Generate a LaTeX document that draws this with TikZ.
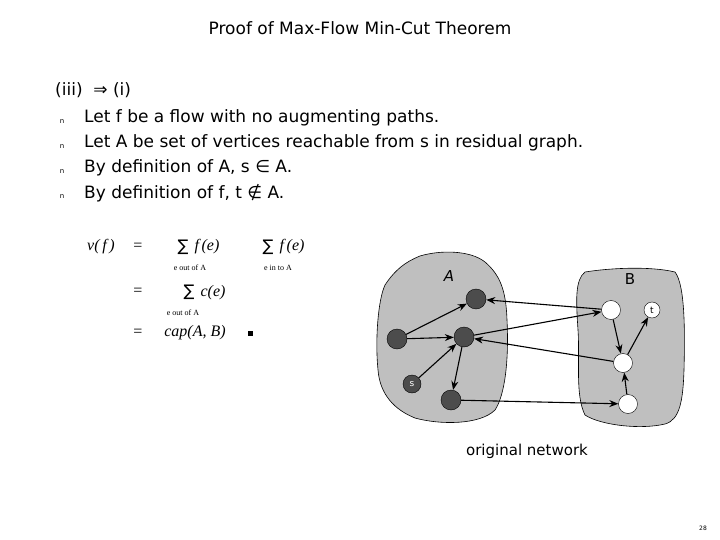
\documentclass[tikz,border=0pt]{standalone}
\usepackage{fontspec}
\setmainfont{DejaVu Sans}
\newfontfamily\mathserif{Liberation Serif}
\usetikzlibrary{arrows.meta}
\begin{document}
\begin{tikzpicture}[x=1pt,y=-1pt,
  txt/.style={font=\fontsize{17}{20}\selectfont,anchor=west,inner sep=0},
  blt/.style={font=\fontsize{7}{8}\selectfont,inner sep=0},
  dk/.style={circle,draw,fill=black!70,minimum size=20pt,inner sep=0},
  lt/.style={circle,draw,fill=white,minimum size=19pt,inner sep=0,font=\fontsize{9}{10}\selectfont},
  arr/.style={-{Stealth[length=9pt,width=7pt]},line width=1.1pt},
  fm/.style={font=\mathserif\fontsize{16}{18}\selectfont\itshape,inner sep=0},
  fu/.style={font=\mathserif\fontsize{16}{18}\selectfont,inner sep=0},
  sm/.style={font=\fontsize{16}{18}\selectfont,inner sep=0},
  sb/.style={font=\mathserif\fontsize{8}{9}\selectfont,inner sep=0}]
\useasboundingbox (0,0) rectangle (720,540);
\node[font=\fontsize{17}{20}\selectfont] (title) at (360,28) {Proof of Max-Flow Min-Cut Theorem};
\node[txt] (hd) at (55,90) {(iii) \ ⇒ (i)};
\foreach \y/\t [count=\i] in {118/{Let f be a flow with no augmenting paths.},143/{Let A be set of vertices reachable from s in residual graph.},168/{By definition of A, s ∈ A.},193/{By definition of f, t ∉ A.}}{
  \node[blt] (b\i) at (62,\y+4) {n};
  \node[txt] (l\i) at (84,\y) {\t};
}
% formula
\node[fm] (vf) at (101,247) {v(\,f\,)};
\node[fu] (e1) at (138,247) {=};
\node[sm] (s1) at (183,247) {∑};
\node[fm] (f1) at (207,247) {f\,(e)};
\node[sb] (u1) at (190,268) {e out of A};
\node[sm] (s2) at (268,247) {∑};
\node[fm] (f2) at (292,247) {f\,(e)};
\node[sb] (u2) at (278,268) {e in to A};
\node[fu] (e2) at (138,292) {=};
\node[sm] (s3) at (189,292) {∑};
\node[fm] (c1) at (213,293) {c(e)};
\node[sb] (u3) at (183,313) {e out of A};
\node[fu] (e3) at (138,333) {=};
\node[fm] (cap) at (195,333) {cap(A, B)};
\node[fill=black,minimum size=5pt,inner sep=0] (qed) at (250,333) {};
% blobs
\fill[black!25,draw=black,line width=0.6pt] (420,256) .. controls (440,250) and (470,250) .. (485,262)
  .. controls (500,275) and (506,290) .. (507,320) .. controls (509,360) and (505,395) .. (495,410)
  .. controls (480,425) and (440,425) .. (415,418) .. controls (395,410) and (380,395) .. (378,370)
  .. controls (375,340) and (378,300) .. (385,285) .. controls (395,270) and (405,262) .. (420,256) -- cycle;
\fill[black!25,draw=black,line width=0.6pt] (585,272) .. controls (610,268) and (650,266) .. (675,272)
  .. controls (685,285) and (685,330) .. (684,370) .. controls (683,400) and (680,420) .. (665,424)
  .. controls (640,430) and (600,425) .. (585,415) .. controls (575,395) and (580,360) .. (578,330)
  .. controls (576,300) and (575,280) .. (585,272) -- cycle;
\node[font=\fontsize{15}{16}\selectfont\itshape] (A) at (449,276) {A};
\node[font=\fontsize{15}{16}\selectfont] (B) at (630,279) {B};
\node[dk] (a1) at (476,299) {};
\node[dk] (a2) at (397,339) {};
\node[dk] (a3) at (464,337) {};
\node[dk,minimum size=18pt,text=white,font=\fontsize{9}{10}\selectfont] (s) at (412,384) {s};
\node[dk] (a4) at (451,400) {};
\node[lt] (b1) at (611,310) {};
\node[lt,minimum size=16pt] (t) at (652,310) {t};
\node[lt] (b2) at (623,363) {};
\node[lt] (b3) at (628,404) {};
\draw[arr] (a2) -- (a1);
\draw[arr] (a2) -- (a3);
\draw[arr] (s) -- (a3);
\draw[arr] (a3) -- (a4);
\draw[arr] (b1) -- (a1);
\draw[arr] (a3) -- (b1);
\draw[arr] (b2) -- (a3);
\draw[arr] (a4) -- (b3);
\draw[arr] (b1) -- (b2);
\draw[arr] (b2) -- (t);
\draw[arr] (b3) -- (b2);
\node[font=\fontsize{15}{16}\selectfont] (on) at (527,451) {original network};
\node[font=\fontsize{6}{7}\selectfont] (pg) at (703,528) {28};
\end{tikzpicture}
\end{document}
